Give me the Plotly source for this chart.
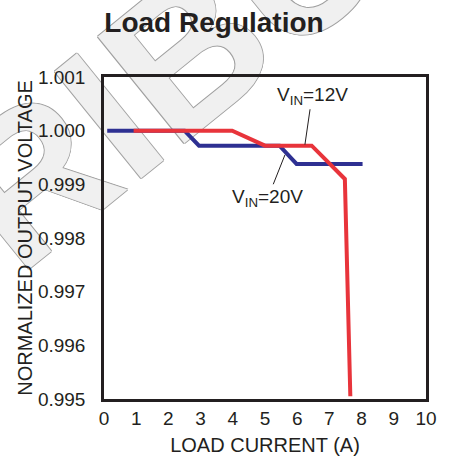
import plotly.graph_objects as go

# load current (A) vs normalized output voltage
vin20_current = [0.1, 2.5, 2.95, 5.45, 5.98, 8.03]
vin20_voltage = [1.0000, 1.0000, 0.99972, 0.99972, 0.99938, 0.99938]

vin12_current = [0.92, 3.98, 5.0, 6.45, 7.48, 7.65]
vin12_voltage = [1.0000, 1.0000, 0.99972, 0.99972, 0.99910, 0.99505]

x_ticks = list(range(0, 11))
y_ticks = [0.995, 0.996, 0.997, 0.998, 0.999, 1.000, 1.001]

FONT = "Arial, Liberation Sans, sans-serif"
INK = "#231f20"
BLUE = "#2e3092"
RED = "#e8343b"

fig = go.Figure()
fig.add_trace(go.Scatter(
    x=vin20_current, y=vin20_voltage, mode="lines",
    line=dict(color=BLUE, width=4), name="VIN=20V",
))
fig.add_trace(go.Scatter(
    x=vin12_current, y=vin12_voltage, mode="lines",
    line=dict(color=RED, width=4), name="VIN=12V",
))

# watermark, drawn under the data
wx, wy = (75 - 104) / 322, (399 - 118) / 322
fig.add_shape(
    type="rect", xref="paper", yref="paper",
    x0=wx - 0.01, x1=wx + 0.01, y0=wy - 0.01, y1=wy + 0.01,
    line=dict(width=0), fillcolor="rgba(0,0,0,0)", layer="below",
    label=dict(text="DISTRIBUTE", textangle=-39, textposition="middle center",
               font=dict(family=FONT, size=200, color="#f0f0f0", weight="bold",
                         shadow="1px 0 0 #a0a0a0, -1px 0 0 #a0a0a0, 0 1px 0 #a0a0a0, 0 -1px 0 #a0a0a0")),
)

fig.add_annotation(
    x=6.24, y=0.99974, ax=6.46, ay=1.00065, axref="x", ayref="y",
    text="V<sub>IN</sub>=12V", showarrow=True, arrowhead=0, arrowwidth=1,
    arrowcolor=INK, standoff=0,
    font=dict(family=FONT, size=19, color=INK),
)
fig.add_annotation(
    x=5.62, y=0.99955, ax=5.09, ay=0.99875, axref="x", ayref="y",
    text="V<sub>IN</sub>=20V", showarrow=True, arrowhead=0, arrowwidth=1,
    arrowcolor=INK, standoff=0,
    font=dict(family=FONT, size=19, color=INK),
)

fig.update_layout(
    width=450, height=456,
    margin=dict(l=104, r=24, t=77, b=57, autoexpand=False),
    paper_bgcolor="white", plot_bgcolor="rgba(0,0,0,0)",
    showlegend=False,
    font=dict(family=FONT, size=19, color=INK),
    title=dict(text="<b>Load Regulation</b>", x=214 / 450, xanchor="center",
               y=1 - 22 / 456, yanchor="middle",
               font=dict(family=FONT, size=28, color=INK)),
)
fig.update_xaxes(
    range=[0, 10], tickvals=x_ticks, showgrid=False, zeroline=False,
    showline=True, linecolor=INK, linewidth=2.5, mirror=True,
    ticks="", ticklabelstandoff=0, automargin=False,
    tickfont=dict(family=FONT, size=19),
    title=dict(text="LOAD CURRENT (A)", standoff=16,
               font=dict(family=FONT, size=20)),
)
fig.update_yaxes(
    range=[0.995, 1.001], tickvals=y_ticks, tickformat=".3f",
    showgrid=False, zeroline=False,
    showline=True, linecolor=INK, linewidth=2.5, mirror=True,
    ticks="", ticklabelstandoff=12, automargin=False,
    tickfont=dict(family=FONT, size=19),
    title=dict(text="NORMALIZED OUTPUT VOLTAGE", standoff=0,
               font=dict(family=FONT, size=20)),
)

fig.write_html("out.html", config={"displayModeBar": False},
               post_script="document.body.style.margin='0';")
